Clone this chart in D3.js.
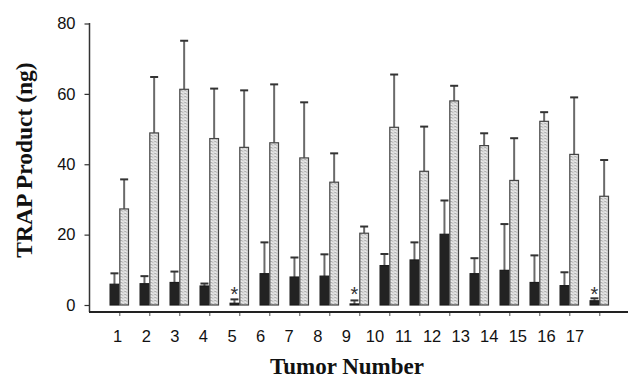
<!DOCTYPE html>
<html><head><meta charset="utf-8">
<script src="https://cdn.jsdelivr.net/npm/d3@7/dist/d3.min.js"></script>
<style>body{margin:0;background:#fff}svg{display:block}</style>
</head><body>
<svg id="chart" width="628" height="378"></svg>
<script>
const categories = ["1","2","3","4","5","6","7","8","9","10","11","12","13","14","15","16","17"];
const seriesNames = ["control","treated"];
const controlValues = [5.9,6.05,6.4,5.4,0.5,8.9,7.95,8.2,0.3,11.2,12.8,20.1,8.9,9.85,6.4,5.5,1.2];
const controlErrTop = [9.0,8.2,9.5,6.1,1.6,17.8,13.5,14.4,1.3,14.5,17.8,29.7,13.3,23.0,14.1,9.3,1.9];
const treatedValues = [27.3,48.9,61.3,47.3,44.8,46.1,41.8,34.9,20.4,50.5,38.0,58.0,45.3,35.4,52.2,42.8,30.9];
const treatedErrTop = [35.7,64.8,75.1,61.5,61.0,62.7,57.6,43.1,22.3,65.5,50.7,62.3,48.8,47.4,54.8,59.0,41.2];
const asteriskCats = ["5","9","17"];
const yTicks = [0,20,40,60,80];

const svg = d3.select("#chart");
const defs = svg.append("defs");
const pat = defs.append("pattern").attr("id","stip").attr("width",4).attr("height",3)
  .attr("patternUnits","userSpaceOnUse");
pat.append("rect").attr("width",4).attr("height",3).attr("fill","#dcdcdc");
pat.append("rect").attr("x",0).attr("y",0).attr("width",2).attr("height",1).attr("fill","#b0b0b0");
pat.append("rect").attr("x",2).attr("y",1).attr("width",1).attr("height",1).attr("fill","#b8b8b8");
pat.append("rect").attr("x",1).attr("y",2).attr("width",1).attr("height",1).attr("fill","#f0f0f0");

const y = d3.scaleLinear().domain([0,80]).range([305,23.5]);
const x0 = d3.scaleBand().domain(categories).range([104.3,614.3]).padding(0);
const bw = 9.7;
const x1 = d3.scaleBand().domain(seriesNames)
  .range([x0.bandwidth()/2 - bw, x0.bandwidth()/2 + bw]).padding(0);
const xLab = d3.scalePoint().domain(categories).range([117.7,575]);

const data = categories.map((c,i)=>({cat:c, bars:[
  {s:"control", v:controlValues[i], e:controlErrTop[i]},
  {s:"treated", v:treatedValues[i], e:treatedErrTop[i]}]}));

const g = svg.append("g");
const groups = g.selectAll("g.grp").data(data).join("g")
  .attr("transform", d=>`translate(${x0(d.cat)},0)`);

// error bars
groups.selectAll("line.err").data(d=>d.bars).join("line")
  .attr("x1", b=>x1(b.s)+x1.bandwidth()/2).attr("x2", b=>x1(b.s)+x1.bandwidth()/2)
  .attr("y1", b=>y(b.v)).attr("y2", b=>y(b.e))
  .attr("stroke","#6a6a6a").attr("stroke-width",2);
groups.selectAll("line.cap").data(d=>d.bars).join("line")
  .attr("x1", b=>x1(b.s)+x1.bandwidth()/2-4).attr("x2", b=>x1(b.s)+x1.bandwidth()/2+4)
  .attr("y1", b=>y(b.e)).attr("y2", b=>y(b.e))
  .attr("stroke","#333").attr("stroke-width",2);

groups.selectAll("rect.bar").data(d=>d.bars).join("rect")
  .attr("x", b=>x1(b.s)+0.5).attr("width", x1.bandwidth()-1)
  .attr("y", b=>y(b.v)).attr("height", b=>Math.max(0.5,y(0)-y(b.v)))
  .attr("fill", b=>b.s==="control" ? "#222" : "url(#stip)")
  .attr("stroke", b=>b.s==="control" ? "#1a1a1a" : "#444").attr("stroke-width",1.2);

// asterisks
g.selectAll("text.ast").data(asteriskCats).join("text")
  .attr("x", c=>x0(c)+x1("control")+x1.bandwidth()/2)
  .attr("y", 301)
  .attr("text-anchor","middle").attr("font-family","Liberation Sans, Arial, sans-serif")
  .attr("font-size",20).attr("fill","#333").text("*");

// y axis
const yAxis = d3.axisLeft(y).tickValues(yTicks).tickSize(5).tickSizeOuter(0);
const ya = svg.append("g").attr("transform","translate(89.5,0)").call(yAxis);
ya.select(".domain").remove();
ya.append("line").attr("x1",0).attr("x2",0).attr("y1",23).attr("y2",312).attr("stroke","#333").attr("stroke-width",1.5);
ya.selectAll(".tick line").attr("stroke","#333").attr("stroke-width",1.2);
ya.selectAll(".tick text").attr("x",-14).attr("font-family","Liberation Sans, Arial, sans-serif")
  .attr("font-size",16.5).attr("fill","#111");

// x axis
const xAxis = d3.axisBottom(d3.scalePoint().domain(categories).range([x0(categories[0])+x0.bandwidth()/2, x0(categories[16])+x0.bandwidth()/2]))
  .tickSize(4).tickSizeOuter(0).tickFormat("");
const xa = svg.append("g").attr("transform","translate(0,312)").call(xAxis);
xa.select(".domain").remove();
xa.append("line").attr("x1",89).attr("x2",628).attr("y1",0).attr("y2",0).attr("stroke","#222").attr("stroke-width",1.8);
xa.selectAll(".tick line").attr("stroke","#555");

svg.append("g").selectAll("text").data(categories).join("text")
  .attr("x", c=>xLab(c)).attr("y",342).attr("text-anchor","middle")
  .attr("font-family","Liberation Sans, Arial, sans-serif").attr("font-size",16.5).attr("fill","#111")
  .text(c=>c);

svg.append("text").attr("x",347).attr("y",374).attr("text-anchor","middle")
  .attr("font-family","Liberation Serif, Times New Roman, serif").attr("font-weight","bold")
  .attr("font-size",23).attr("fill","#111").text("Tumor Number");

svg.append("text").attr("transform","translate(32,160) rotate(-90)").attr("text-anchor","middle")
  .attr("font-family","Liberation Serif, Times New Roman, serif").attr("font-weight","bold")
  .attr("font-size",23.5).attr("fill","#111").text("TRAP Product (ng)");
</script>
</body></html>
